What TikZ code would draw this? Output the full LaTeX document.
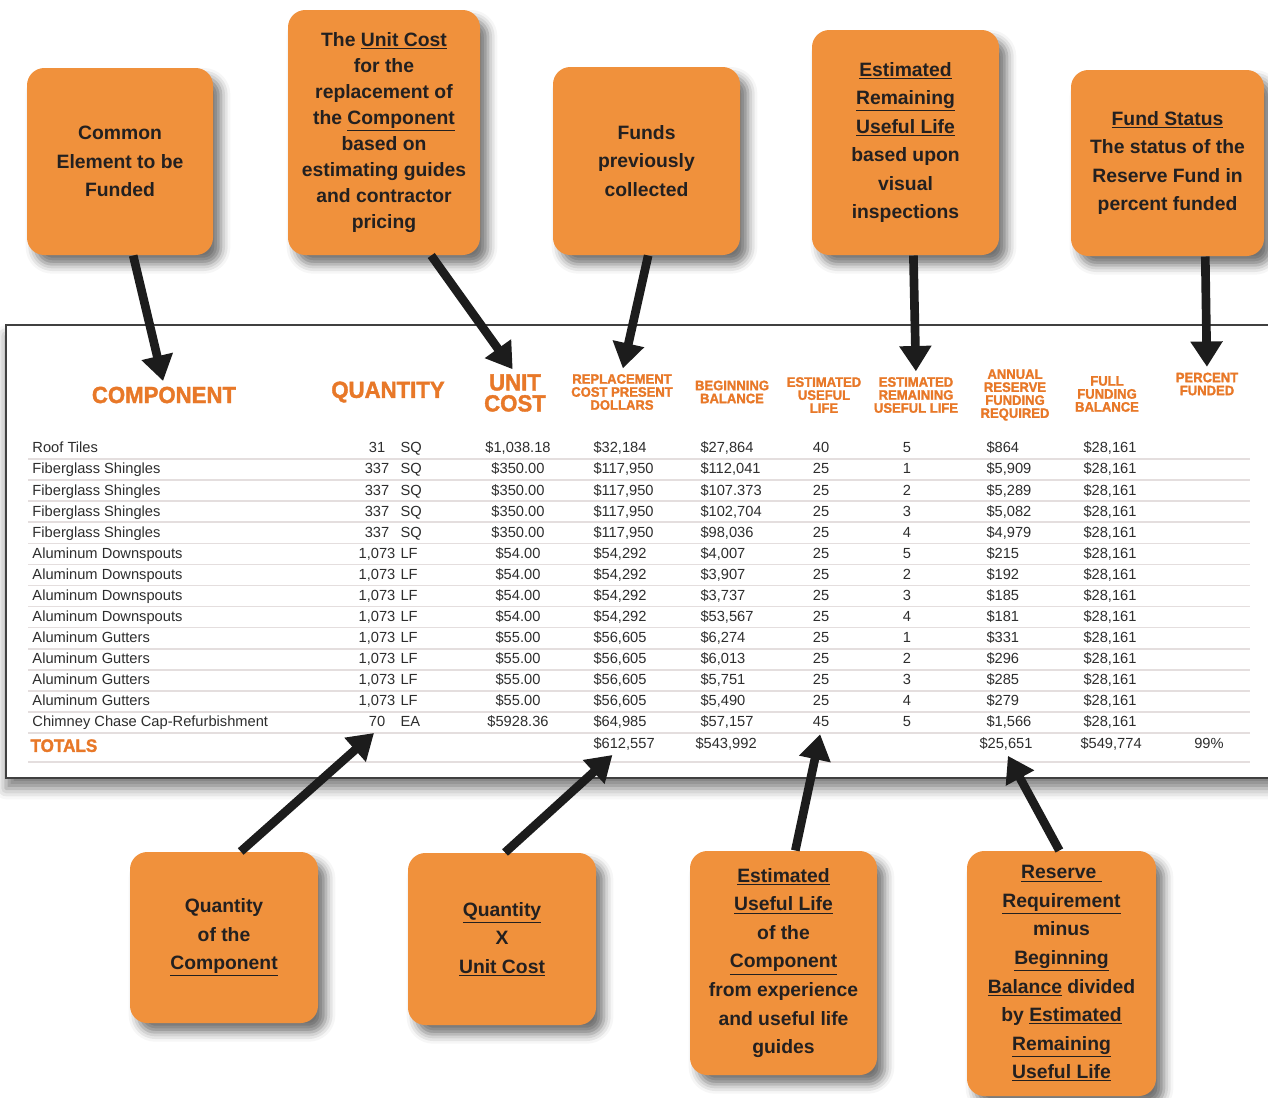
\documentclass[tikz,border=0pt]{standalone}
\usepackage{fontspec}
\setmainfont{Liberation Sans}
\newfontfamily\headfont[FakeBold=1.6,FakeStretch=0.95]{Liberation Sans Bold}
\usetikzlibrary{arrows.meta,shadows.blur}

\definecolor{boxorange}{RGB}{240,145,60}
\definecolor{hdrorange}{RGB}{232,120,40}
\definecolor{inkgray}{RGB}{35,32,32}
\definecolor{rowgray}{RGB}{45,45,45}
\definecolor{rulegray}{RGB}{228,222,222}
\definecolor{arrowblack}{RGB}{28,28,28}

\tikzset{every picture/.style={line width=0.75pt}}
\tikzset{
  notebox/.style={fill=boxorange, rounded corners=13pt, align=center, text=inkgray,
    font=\fontsize{14.5}{21.4}\selectfont\bfseries,
    blur shadow={shadow xshift=6pt, shadow yshift=-7pt, shadow blur radius=7pt, shadow opacity=55}},
  pointer/.style={line width=6.5pt, draw=arrowblack, shorten >=3pt, -{Triangle[length=19pt,width=23pt]}},
  bighead/.style={font=\fontsize{17.5}{15.75}\selectfont\headfont, text=hdrorange, align=center, inner sep=1pt},
  smallhead/.style={font=\fontsize{10.3}{9.75}\selectfont\headfont, text=hdrorange, align=center, inner sep=1pt},
  cell/.style={font=\fontsize{11}{13}\selectfont, text=rowgray, inner sep=0pt, text height=8pt, text depth=2.2pt},
  rowrule/.style={draw=rulegray, line width=1.2pt}
}

\begin{document}
\begin{tikzpicture}[x=0.75pt,y=0.75pt,yscale=-1,xscale=1]
\useasboundingbox (0,0) rectangle (1268,1097);

% table
\draw [draw=black!75, line width=1.5pt, fill=white, blur shadow={shadow xshift=0pt, shadow yshift=-8pt, shadow blur radius=8pt, shadow opacity=50}] (6,325) rectangle (1300,778);

\node [bighead] (hComp) at (164,395) {COMPONENT};
\node [bighead] (hQty) at (388,392) {QUANTITY};
\node [bighead] (hUnit) at (515,393) {UNIT\\COST};
\node [smallhead] (hRepl) at (622,392) {REPLACEMENT\\COST PRESENT\\DOLLARS};
\node [smallhead] (hBeg) at (732,392) {BEGINNING\\BALANCE};
\node [smallhead] (hEul) at (824,395) {ESTIMATED\\USEFUL\\LIFE};
\node [smallhead] (hErl) at (916,395) {ESTIMATED\\REMAINING\\USEFUL LIFE};
\node [smallhead] (hAnn) at (1015,395) {ANNUAL\\RESERVE\\FUNDING\\REQUIRED};
\node [smallhead] (hFull) at (1107,394) {FULL\\FUNDING\\BALANCE};
\node [smallhead] (hPct) at (1207,384) {PERCENT\\FUNDED};

\foreach \name/\qty/\unit/\ucost/\repl/\beg/\eul/\erl/\ann [count=\i] in {
  Roof Tiles/31/SQ/\$1{,}038.18/\$32{,}184/\$27{,}864/40/5/\$864,
  Fiberglass Shingles/337/SQ/\$350.00/\$117{,}950/\$112{,}041/25/1/\$5{,}909,
  Fiberglass Shingles/337/SQ/\$350.00/\$117{,}950/\$107.373/25/2/\$5{,}289,
  Fiberglass Shingles/337/SQ/\$350.00/\$117{,}950/\$102{,}704/25/3/\$5{,}082,
  Fiberglass Shingles/337/SQ/\$350.00/\$117{,}950/\$98{,}036/25/4/\$4{,}979,
  Aluminum Downspouts/1{,}073/LF/\$54.00/\$54{,}292/\$4{,}007/25/5/\$215,
  Aluminum Downspouts/1{,}073/LF/\$54.00/\$54{,}292/\$3{,}907/25/2/\$192,
  Aluminum Downspouts/1{,}073/LF/\$54.00/\$54{,}292/\$3{,}737/25/3/\$185,
  Aluminum Downspouts/1{,}073/LF/\$54.00/\$54{,}292/\$53{,}567/25/4/\$181,
  Aluminum Gutters/1{,}073/LF/\$55.00/\$56{,}605/\$6{,}274/25/1/\$331,
  Aluminum Gutters/1{,}073/LF/\$55.00/\$56{,}605/\$6{,}013/25/2/\$296,
  Aluminum Gutters/1{,}073/LF/\$55.00/\$56{,}605/\$5{,}751/25/3/\$285,
  Aluminum Gutters/1{,}073/LF/\$55.00/\$56{,}605/\$5{,}490/25/4/\$279,
  Chimney Chase Cap-Refurbishment/70/EA/\$5928.36/\$64{,}985/\$57{,}157/45/5/\$1{,}566}{
  \pgfmathsetmacro\ry{449+(\i-1)*21.08}
  \node [cell, anchor=west] (name\i) at (32,\ry) {\name};
  \node [cell] (qty\i) at (377,\ry) {\qty};
  \node [cell, anchor=west] (unit\i) at (400,\ry) {\unit};
  \node [cell] (ucost\i) at (518,\ry) {\ucost};
  \node [cell, anchor=west] (repl\i) at (593,\ry) {\repl};
  \node [cell, anchor=west] (beg\i) at (700,\ry) {\beg};
  \node [cell] (eul\i) at (821,\ry) {\eul};
  \node [cell] (erl\i) at (907,\ry) {\erl};
  \node [cell, anchor=west] (ann\i) at (986,\ry) {\ann};
  \node [cell, anchor=west] (full\i) at (1083,\ry) {\$28,161};
  \draw [rowrule] (28,\ry+10) -- (1250,\ry+10);
}

\node [cell, anchor=west, font=\fontsize{13.5}{15}\selectfont\headfont, text=hdrorange] (totLbl) at (30,748) {TOTALS};
\node [cell, anchor=west] (totRepl) at (593,745) {\$612,557};
\node [cell, anchor=west] (totBeg) at (695,745) {\$543,992};
\node [cell, anchor=west] (totAnn) at (979,745) {\$25,651};
\node [cell, anchor=west] (totFull) at (1080,745) {\$549,774};
\node [cell] (totPct) at (1209,745) {99\%};
\draw [rowrule] (28,762) -- (1250,762);

% notes
\node [notebox, minimum width=139.5pt, minimum height=140.25pt] (boxComp) at (120,161.5) {Common\\Element to be\\Funded};
\node [notebox, minimum width=144pt, minimum height=183.75pt, font=\fontsize{14.5}{19.5}\selectfont\bfseries] (boxUnit) at (384,132.5) {The \underline{Unit Cost}\\for the\\replacement of\\the \underline{Component}\\based on\\estimating guides\\and contractor\\pricing};
\node [notebox, minimum width=140.25pt, minimum height=141pt] (boxFunds) at (646.5,161) {Funds\\previously\\collected};
\node [notebox, minimum width=140.25pt, minimum height=168.75pt] (boxRem) at (905.5,142.5) {\underline{Estimated}\\\underline{Remaining}\\\underline{Useful Life}\\based upon\\visual\\inspections};
\node [notebox, minimum width=144.75pt, minimum height=139.5pt] (boxStat) at (1167.5,163) {\underline{Fund Status}\\The status of the\\Reserve Fund in\\percent funded};
\node [notebox, minimum width=141pt, minimum height=128.25pt] (boxQty) at (224,937.5) {Quantity\\of the\\\underline{Component}};
\node [notebox, minimum width=141pt, minimum height=129pt] (boxProd) at (502,939) {\underline{Quantity}\\X\\\underline{Unit Cost}};
\node [notebox, minimum width=140.25pt, minimum height=168pt] (boxLife) at (783.5,963) {\underline{Estimated}\\\underline{Useful Life}\\of the\\\underline{Component}\\from experience\\and useful life\\guides};
\node [notebox, minimum width=141.75pt, minimum height=183.75pt] (boxReq) at (1061.5,973.5) {\underline{Reserve }\\\underline{Requirement}\\minus\\\underline{Beginning}\\\underline{Balance} divided\\by \underline{Estimated}\\\underline{Remaining}\\\underline{Useful Life}};

% arrows
\draw [pointer] (boxComp.-82) -- (hComp.north);
\draw [pointer] (boxUnit.-69.4) -- (hUnit.north);
\draw [pointer] (boxFunds.-89) -- (hRepl.north);
\draw [pointer] (boxRem.-86.7) -- (hErl.north);
\draw [pointer] (boxStat.-68.6) -- (hPct.north);
\draw [pointer] (boxQty.79.4) -- (qty14.south);
\draw [pointer] (boxProd.88) -- (totRepl.-140);
\draw [pointer] (boxLife.84.1) -- (eul14.south);
\draw [pointer] (boxReq.91.6) -- (totAnn.south);

\end{tikzpicture}
\end{document}
